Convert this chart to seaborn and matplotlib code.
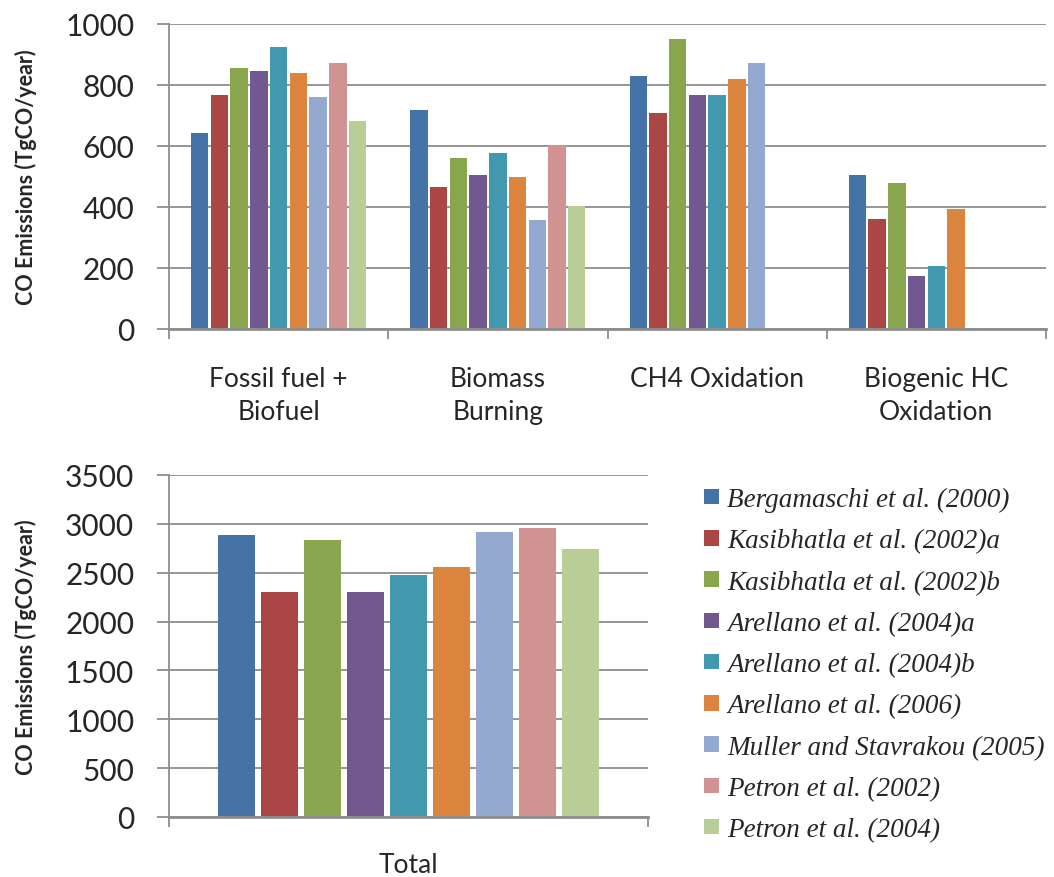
import numpy as np
import pandas as pd
import matplotlib
matplotlib.use("Agg")
import matplotlib.pyplot as plt
import seaborn as sns
from matplotlib.patches import Patch
from matplotlib.ticker import FixedLocator, NullFormatter

# ---- data ----
categories = ["Fossil fuel +\nBiofuel", "Biomass\nBurning", "CH4 Oxidation", "Biogenic HC\nOxidation"]
studies = [
    "Bergamaschi et al. (2000)",
    "Kasibhatla et al. (2002)a",
    "Kasibhatla et al. (2002)b",
    "Arellano et al. (2004)a",
    "Arellano et al. (2004)b",
    "Arellano et al. (2006)",
    "Muller and Stavrakou (2005)",
    "Petron et al. (2002)",
    "Petron et al. (2004)",
]
fossil = [641, 766, 855, 845, 924, 840, 761, 871, 681]
biomass = [719, 467, 561, 504, 578, 499, 357, 604, 404]
ch4 = [829, 709, 950, 766, 766, 819, 871, np.nan, np.nan]
biogenic = [504, 362, 478, 174, 205, 395, np.nan, np.nan, np.nan]
total = [2882, 2298, 2830, 2298, 2472, 2554, 2912, 2953, 2738]
total_label = ["Total"]
colors = ["#4572A7", "#AA4643", "#89A54E", "#71588F", "#4198AF",
          "#DB843D", "#93A9CF", "#D19392", "#B9CD96"]

rows = []
for cat, vals in zip(categories, [fossil, biomass, ch4, biogenic]):
    for s, v in zip(studies, vals):
        rows.append({"category": cat, "study": s, "value": v})
df_top = pd.DataFrame(rows)
df_bot = pd.DataFrame({"category": total_label * len(studies), "study": studies, "value": total})

sns.set_style("white")
plt.rcParams["font.family"] = ["Lato", "DejaVu Sans"]

W, H = 1054, 878
fig = plt.figure(figsize=(W / 100, H / 100), dpi=100)

def fr(l, t, r, b):
    return [l / W, 1 - b / H, (r - l) / W, (b - t) / H]

ax1 = fig.add_axes(fr(169, 25, 1046, 330))
ax2 = fig.add_axes(fr(169, 476, 648, 818))

grid_c = "#8e8e8e"

sns.barplot(data=df_top, x="category", y="value", hue="study", hue_order=studies,
            order=categories, palette=colors, ax=ax1, width=0.81, gap=0.12,
            errorbar=None, legend=False, linewidth=0, saturation=1)
sns.barplot(data=df_bot, x="category", y="value", hue="study", hue_order=studies,
            palette=colors, ax=ax2, width=0.81, gap=0.14,
            errorbar=None, legend=False, linewidth=0, saturation=1)

def style(ax, ymax, step, ncat, pad_x):
    ax.set_xlim(-0.5, ncat - 0.5)
    ax.set_ylim(0, ymax)
    ax.set_yticks(np.arange(0, ymax + 1, step))
    ax.set_axisbelow(True)
    ax.yaxis.grid(True, color=grid_c, linewidth=1.3)
    ax.xaxis.grid(False)
    for s in ["top", "right"]:
        ax.spines[s].set_visible(False)
    ax.spines["left"].set_color(grid_c)
    ax.spines["left"].set_linewidth(1.3)
    ax.spines["bottom"].set_color(grid_c)
    ax.spines["bottom"].set_linewidth(2.0)
    ax.tick_params(axis="y", which="major", direction="out", length=9, width=1.3,
                   color=grid_c, labelsize=21.5, pad=16, left=True)
    ax.tick_params(axis="x", which="major", length=0, labelsize=19, pad=pad_x)
    for t in ax.get_xticklabels():
        t.set_linespacing(1.4)
    ax.xaxis.set_minor_locator(FixedLocator(np.arange(-0.5, ncat, 1.0)))
    ax.xaxis.set_minor_formatter(NullFormatter())
    ax.tick_params(axis="x", which="minor", direction="out", length=7, width=1.3,
                   color=grid_c, bottom=True)
    ax.set_xlabel("")

style(ax1, 1000, 200, 4, 27)
style(ax2, 3500, 500, 1, 25)

for ax, yc in [(ax1, (25 + 330) / 2), (ax2, (476 + 818) / 2)]:
    ax.set_ylabel("CO Emissions (TgCO/year)", fontsize=15.5, fontweight="bold")
    ax.yaxis.set_label_coords(37 / W, 1 - yc / H, transform=fig.transFigure)

handles = [Patch(facecolor=c, edgecolor="none") for c in colors]
fig.legend(handles, studies, loc="upper left", bbox_to_anchor=(704 / W, 1 - 488 / H),
           frameon=False, borderpad=0, borderaxespad=0,
           prop={"family": "Liberation Serif", "style": "italic", "size": 19.5},
           handlelength=0.55, handleheight=0.5, handletextpad=0.3, labelspacing=0.6)

fig.savefig("out.png", dpi=100)
